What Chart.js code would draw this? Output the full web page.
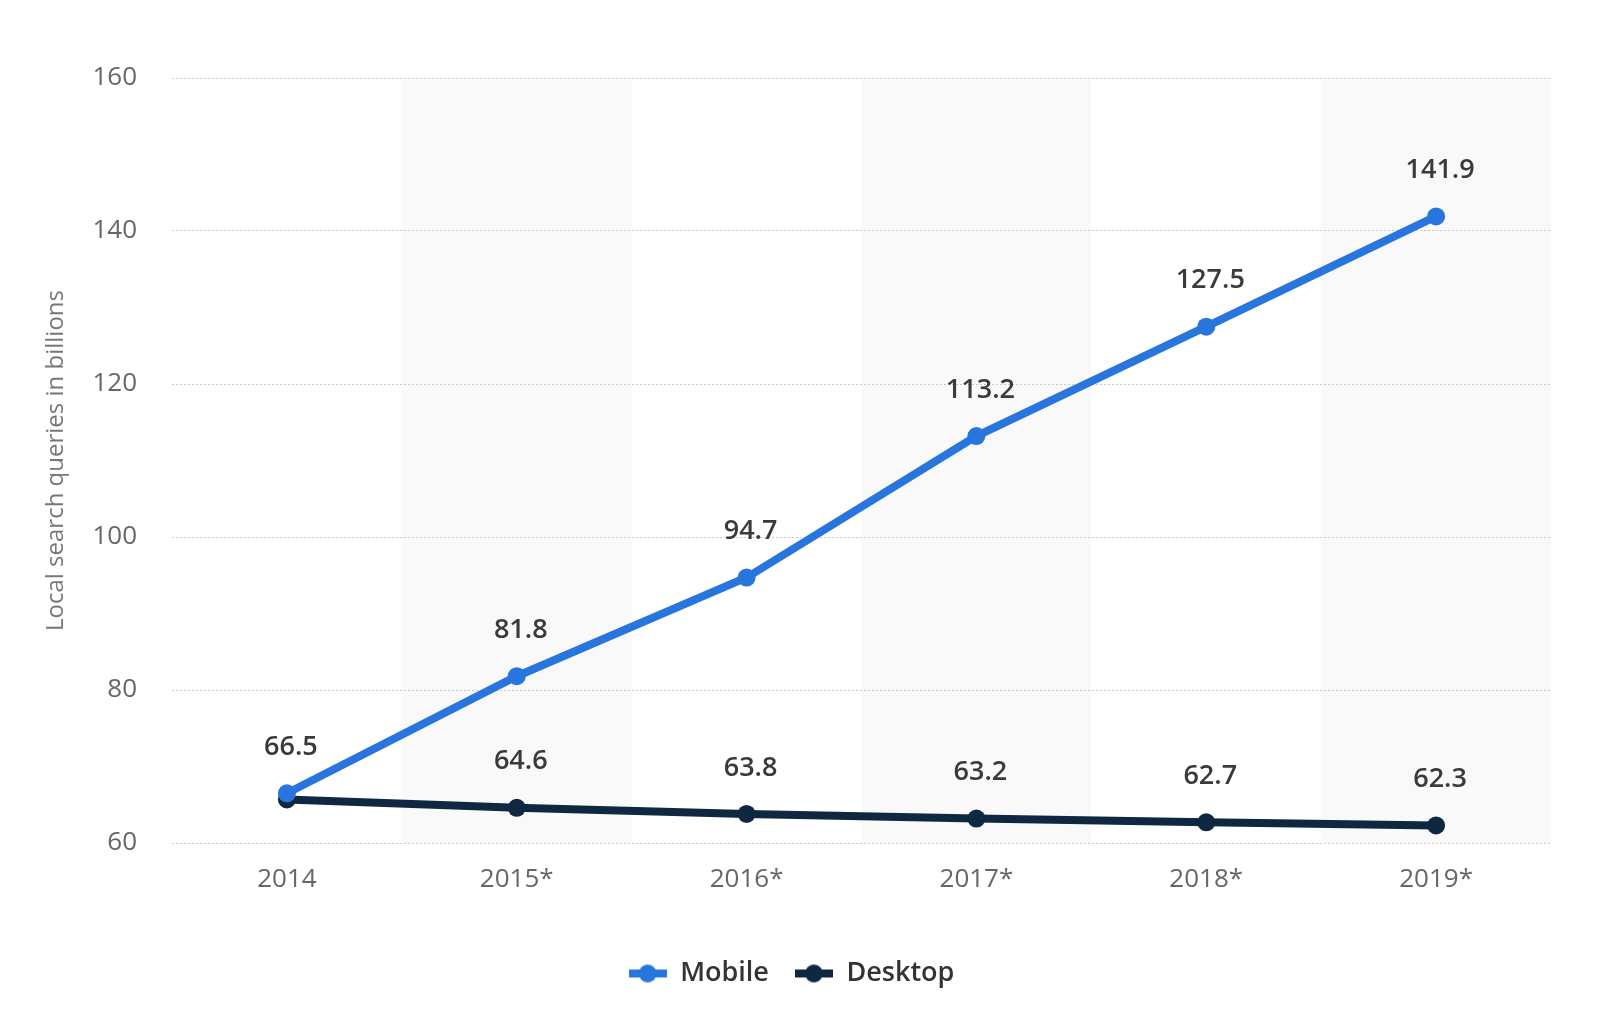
<!DOCTYPE html>
<html>
<head>
<meta charset="utf-8">
<script src="https://cdn.jsdelivr.net/npm/chart.js@4/dist/chart.umd.min.js"></script>
<style>
	html, body {
		margin: 0;
		padding: 0;
		background: #ffffff;
	}
	#wrap {
		width: 1600px;
		height: 1030px;
	}
</style>
</head>
<body>
<div id="wrap"><canvas id="chart"></canvas></div>
<script>
const years = ["2014", "2015*", "2016*", "2017*", "2018*", "2019*"];
const mobile = [66.5, 81.8, 94.7, 113.2, 127.5, 141.9];
const desktop = [65.7, 64.6, 63.8, 63.2, 62.7, 62.3];
const mobileLabels = ["66.5", "81.8", "94.7", "113.2", "127.5", "141.9"];
const desktopLabels = ["", "64.6", "63.8", "63.2", "62.7", "62.3"];

const fontFamily = "'Open Sans', 'Noto Sans', sans-serif";
const mobileColor = "#2876dd";
const desktopColor = "#0f2741";

function legendIcon(color) {
	const canvas = document.createElement("canvas");
	canvas.width = 38;
	canvas.height = 20;
	const ctx = canvas.getContext("2d");
	ctx.fillStyle = color;
	ctx.fillRect(0, 6, 38, 8);
	ctx.beginPath();
	ctx.arc(19, 10, 9, 0, Math.PI * 2);
	ctx.fill();
	return canvas;
}

const bandPlugin = {
	id: "bands",
	beforeDraw(chart) {
		const ctx = chart.ctx;
		const area = chart.chartArea;
		const x = chart.scales.x;
		const step = x.getPixelForValue(1) - x.getPixelForValue(0);
		ctx.save();
		ctx.fillStyle = "#f9f9f9";
		for (let i = 1; i < years.length; i += 2) {
			const center = x.getPixelForValue(i);
			ctx.fillRect(center - step / 2, area.top + 2, step, area.bottom - area.top - 2);
		}
		ctx.restore();
	}
};

const labelPlugin = {
	id: "valueLabels",
	afterLayout(chart) {
		// legend sits a bit right of the plot centre
		chart.legend.left += 16;
		chart.legend.right += 16;
	},
	afterDatasetsDraw(chart) {
		const ctx = chart.ctx;
		const sets = [mobileLabels, desktopLabels];
		ctx.save();
		ctx.font = "600 27px " + fontFamily;
		ctx.fillStyle = "#3a3a3a";
		ctx.textAlign = "center";
		ctx.textBaseline = "middle";
		sets.forEach((labels, d) => {
			const meta = chart.getDatasetMeta(d);
			meta.data.forEach((point, i) => {
				if (labels[i] === "") {
					return;
				}
				ctx.fillText(labels[i], point.x + 4, point.y - 46);
			});
		});
		ctx.restore();
	}
};

const context = document.getElementById("chart").getContext("2d");
const chart = new Chart(context, {
	type: "line",
	data: {
		labels: years,
		datasets: [
			{
				label: "Mobile",
				data: mobile,
				borderColor: mobileColor,
				backgroundColor: mobileColor,
				borderWidth: 8,
				pointRadius: 9,
				pointHoverRadius: 9,
				pointBorderWidth: 0,
				tension: 0
			},
			{
				label: "Desktop",
				data: desktop,
				borderColor: desktopColor,
				backgroundColor: desktopColor,
				borderWidth: 8,
				pointRadius: 9,
				pointHoverRadius: 9,
				pointBorderWidth: 0,
				tension: 0
			}
		]
	},
	options: {
		responsive: true,
		maintainAspectRatio: false,
		animation: false,
		layout: {
			padding: {
				top: 78,
				right: 49,
				bottom: 33,
				left: 0
			}
		},
		plugins: {
			legend: {
				position: "bottom",
				labels: {
					usePointStyle: true,
					pointStyleWidth: 38,
					padding: 26,
					color: "#333333",
					font: {
						family: fontFamily,
						size: 27,
						weight: "600"
					},
					generateLabels(chart) {
						return chart.data.datasets.map((ds, i) => ({
							text: ds.label,
							pointStyle: legendIcon(ds.borderColor),
							fillStyle: ds.borderColor,
							strokeStyle: ds.borderColor,
							lineWidth: 0,
							fontColor: "#333333",
							hidden: false,
							datasetIndex: i
						}));
					}
				}
			},
			tooltip: {
				enabled: false
			}
		},
		scales: {
			x: {
				offset: true,
				grid: {
					display: false
				},
				border: {
					display: false
				},
				ticks: {
					color: "#666666",
					padding: 13,
					font: {
						family: fontFamily,
						size: 26
					}
				},
				afterFit(scale) {
					scale.height = 91;
				}
			},
			y: {
				min: 60,
				max: 160,
				ticks: {
					stepSize: 20,
					color: "#666666",
					padding: 35,
					font: {
						family: fontFamily,
						size: 26
					}
				},
				grid: {
					color: "#c8c8c8",
					lineWidth: 1,
					drawTicks: false
				},
				border: {
					display: false,
					dash: [2, 2]
				},
				title: {
					display: true,
					text: "Local search queries in billions",
					color: "#777777",
					padding: {
						top: 42,
						bottom: 0
					},
					font: {
						family: fontFamily,
						size: 24
					}
				},
				afterFit(scale) {
					scale.width = 172;
				}
			}
		}
	},
	plugins: [bandPlugin, labelPlugin]
});
</script>
</body>
</html>
